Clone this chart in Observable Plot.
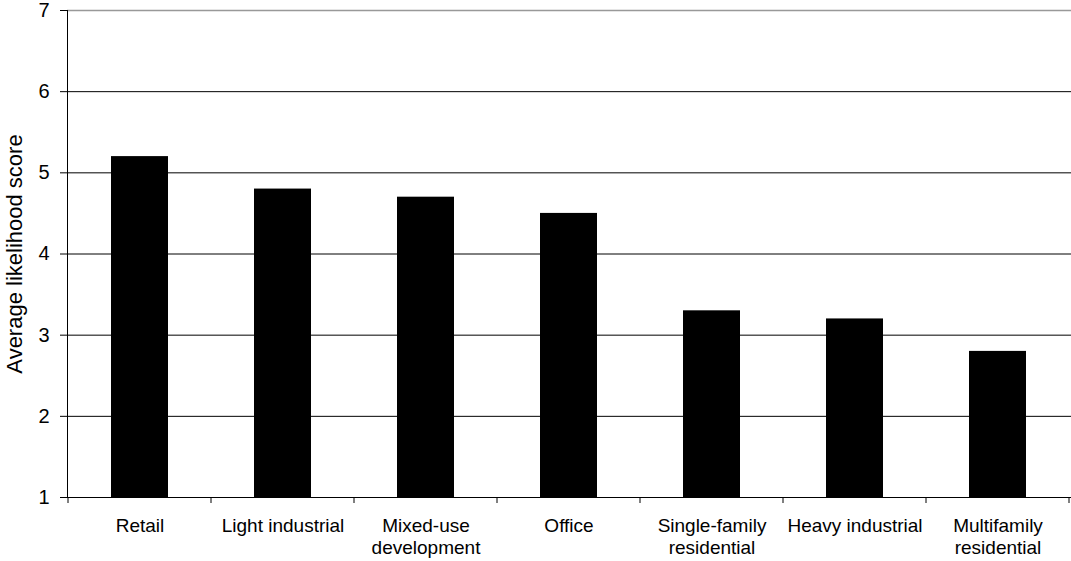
<!DOCTYPE html>
<html>
<head>
<meta charset="utf-8">
<script src="https://cdn.jsdelivr.net/npm/d3@7"></script>
<script src="https://cdn.jsdelivr.net/npm/@observablehq/plot@0.6"></script>
<style>
  html, body { margin: 0; padding: 0; background: #fff; }
  #chart svg { display: block; }
  #chart [aria-label="y-axis label"] { font-size: 22px; }
</style>
</head>
<body>
<div id="chart"></div>
<script>
const categories = ["Retail", "Light industrial", "Mixed-use development", "Office", "Single-family residential", "Heavy industrial", "Multifamily residential"];
const tickLabels = ["Retail", "Light industrial", "Mixed-use\ndevelopment", "Office", "Single-family\nresidential", "Heavy industrial", "Multifamily\nresidential"];
const scores = [5.2, 4.8, 4.7, 4.5, 3.3, 3.2, 2.8];
const yTicks = [1, 2, 3, 4, 5, 6, 7];
const yLabel = "Average likelihood score";

const data = categories.map((c, i) => ({category: c, score: scores[i]}));
const labelOf = new Map(categories.map((c, i) => [c, tickLabels[i]]));

// Category boundary ticks on the x axis (drawn through the band scale)
function boundaryTicks(index, scales, values, dimensions) {
  const x = scales.x;
  const step = x(categories[1]) - x(categories[0]);
  const bw = scales.scales.x.bandwidth;
  const gap = (step - bw) / 2;
  const y0 = scales.y(1);
  const g = d3.create("svg:g").attr("stroke", "#000").attr("stroke-width", 1);
  const xs = categories.map(c => x(c) - gap);
  xs.push(x(categories[categories.length - 1]) + bw + gap);
  for (const xv of xs) {
    g.append("line").attr("x1", xv).attr("x2", xv).attr("y1", y0).attr("y2", y0 + 6);
  }
  return g.node();
}

const chart = Plot.plot({
  width: 1071,
  height: 561,
  marginLeft: 67,
  marginRight: 0,
  marginTop: 10,
  marginBottom: 64,
  style: {fontFamily: "'Liberation Sans', Arial, sans-serif", background: "#fff", color: "#000", overflow: "visible"},
  x: {domain: categories, paddingInner: 0.6, paddingOuter: 0.3, label: null},
  y: {domain: [1, 7], label: null},
  marks: [
    Plot.ruleY(yTicks.filter(d => d > 1 && d < 7), {stroke: "#000", strokeWidth: 1}),
    Plot.ruleY([7], {stroke: "#999", strokeWidth: 1.5}),
    Plot.barY(data, {x: "category", y1: 1, y2: "score", fill: "#000"}),
    Plot.ruleY([1], {stroke: "#000", strokeWidth: 1}),
    Plot.frame({anchor: "left", stroke: "#000"}),
    Plot.axisY({ticks: yTicks, tickSize: 7, tickPadding: 11, fontSize: 20, tickFormat: d => String(d), label: yLabel, labelAnchor: "center", labelArrow: "none", labelOffset: 61}),
    Plot.axisX({tickSize: 0, tickPadding: 18, fontSize: 19, tickFormat: d => labelOf.get(d), lineHeight: 1.2}),
    boundaryTicks
  ]
});

document.getElementById("chart").appendChild(chart);
</script>
</body>
</html>
